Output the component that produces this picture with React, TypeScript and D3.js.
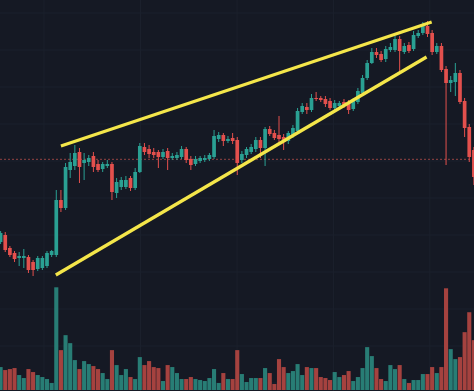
import React from "react";
import * as d3 from "d3";

const W = 474;
const H = 391;

// OHLC series (arbitrary price units)
const opens = [158,165,152,147,142,142,143,138,131,132,134,145,145,200,192,230,234,248,237,238,244,236,231,234,236,207,213,213,222,212,228,253,251,248,248,243,249,242,242,243,251,241,236,239,240,241,243,261,265,259,262,260,240,245,248,251,260,252,271,267,265,263,259,264,269,288,293,290,302,302,301,299,292,294,298,297,291,298,307,322,337,348,346,341,350,350,361,348,355,351,364,367,374,367,348,354,331,317,318,327,299,273,250];
const highs = [169,168,154,149,148,151,145,140,144,144,149,150,210,210,237,247,255,252,247,245,248,240,238,240,238,222,223,224,224,232,257,257,255,252,250,251,252,247,248,254,253,244,244,244,245,247,270,268,267,264,267,263,249,253,256,263,263,273,274,270,284,266,269,275,292,297,297,306,308,304,304,302,300,299,301,300,302,312,325,340,352,352,349,354,357,364,364,357,358,369,370,378,379,370,357,357,334,324,337,330,302,276,253];
const lows = [156,148,143,138,134,132,127,124,129,130,132,143,143,188,190,222,230,217,220,234,228,228,228,232,200,202,210,211,209,210,227,245,242,242,232,241,230,240,240,241,237,230,234,237,238,239,241,258,254,257,256,225,237,242,246,248,242,234,264,260,258,250,256,262,267,286,286,288,299,298,293,290,290,292,292,286,289,296,305,320,336,342,338,338,348,348,328,346,347,349,362,365,363,345,346,328,235,308,304,296,263,238,215];
const closes = [167,150,145,141,144,144,130,130,142,142,147,149,200,192,233,238,247,233,240,242,233,230,236,236,208,218,220,220,212,228,254,248,246,245,243,248,242,244,245,251,240,235,241,242,242,245,264,265,259,261,259,237,246,251,253,260,252,271,266,262,261,258,267,272,289,294,290,302,301,300,296,292,297,297,294,290,300,309,322,337,348,345,340,351,353,361,349,354,349,365,367,374,366,348,354,330,317,320,327,298,272,243,223];
const volumes = [23,20,21,22,15,12,21,18,15,13,11,7,103,40,55,47,30,21,29,26,24,21,17,11,40,25,15,21,13,11,33,25,29,23,22,9,25,23,17,11,11,13,11,10,9,12,21,7,17,11,11,40,16,8,12,12,12,22,17,6,31,23,17,19,26,15,23,22,22,13,12,10,18,13,15,19,9,13,22,43,34,22,11,9,25,21,25,11,7,10,10,16,16,23,17,23,102,41,31,33,58,78,50];

// Wedge trend lines: [candle index, price]
const upperLine = [[13.0, 254], [92.9, 378]];
const lowerLine = [[11.9, 125], [91.8, 343]];
const lastPrice = 240.7;
const gridIndices = [9.35, 30.15, 50.95, 71.75, 92.5];
const gridPrices = [387, 350, 313, 276, 239, 202, 165, 128, 91, 54, 17];

const BG = "#151924";
const UP = "#2aa093";
const DOWN = "#e3504d";
const VOL_UP = "#287d75";
const VOL_DOWN = "#a5423f";
const GRID = "#1b202c";
const TREND = "#f4e64a";

export default function App() {
  const n = closes.length;
  const x = d3.scaleLinear().domain([0, n - 1]).range([0.6, 473.9]);
  const y = d3.scaleLinear().domain([0, 400]).range([400, 0]);
  const vy = d3.scaleLinear().domain([0, 103]).range([390, 287.3]);
  const bodyW = 3.7;
  const volW = 4.1;
  const line = d3.line<number[]>().x((d) => x(d[0])).y((d) => y(d[1]));

  return (
    <svg
      width={W}
      height={H}
      style={{ position: "fixed", left: 0, top: 0, display: "block" }}
    >
      <rect x={0} y={0} width={W} height={H} fill={BG} />
      {gridIndices.map((g, i) => (
        <line key={"gx" + i} x1={x(g)} x2={x(g)} y1={0} y2={H} stroke={GRID} strokeWidth={1} />
      ))}
      {gridPrices.map((p, i) => (
        <line key={"gy" + i} x1={0} x2={W} y1={y(p)} y2={y(p)} stroke={GRID} strokeWidth={1} />
      ))}
      {volumes.map((v, i) => {
        const up = closes[i] >= opens[i];
        return (
          <rect
            key={"v" + i}
            x={x(i) - volW / 2}
            y={vy(v)}
            width={volW}
            height={vy(0) - vy(v)}
            fill={up ? VOL_UP : VOL_DOWN}
          />
        );
      })}
      <line
        x1={0}
        x2={W}
        y1={y(lastPrice)}
        y2={y(lastPrice)}
        stroke="#c0504d"
        strokeOpacity={0.75}
        strokeWidth={1}
        strokeDasharray="2,2"
      />
      {closes.map((c, i) => {
        const o = opens[i];
        const up = c >= o;
        const col = up ? UP : DOWN;
        const top = y(Math.max(o, c));
        const bot = y(Math.min(o, c));
        return (
          <g key={"c" + i}>
            <line x1={x(i)} x2={x(i)} y1={y(highs[i])} y2={y(lows[i])} stroke={col} strokeWidth={1} />
            <rect x={x(i) - bodyW / 2} y={top} width={bodyW} height={Math.max(1, bot - top)} fill={col} />
          </g>
        );
      })}
      <path d={line(upperLine) || ""} stroke={TREND} strokeWidth={3.2} fill="none" />
      <path d={line(lowerLine) || ""} stroke={TREND} strokeWidth={3.2} fill="none" />
    </svg>
  );
}
